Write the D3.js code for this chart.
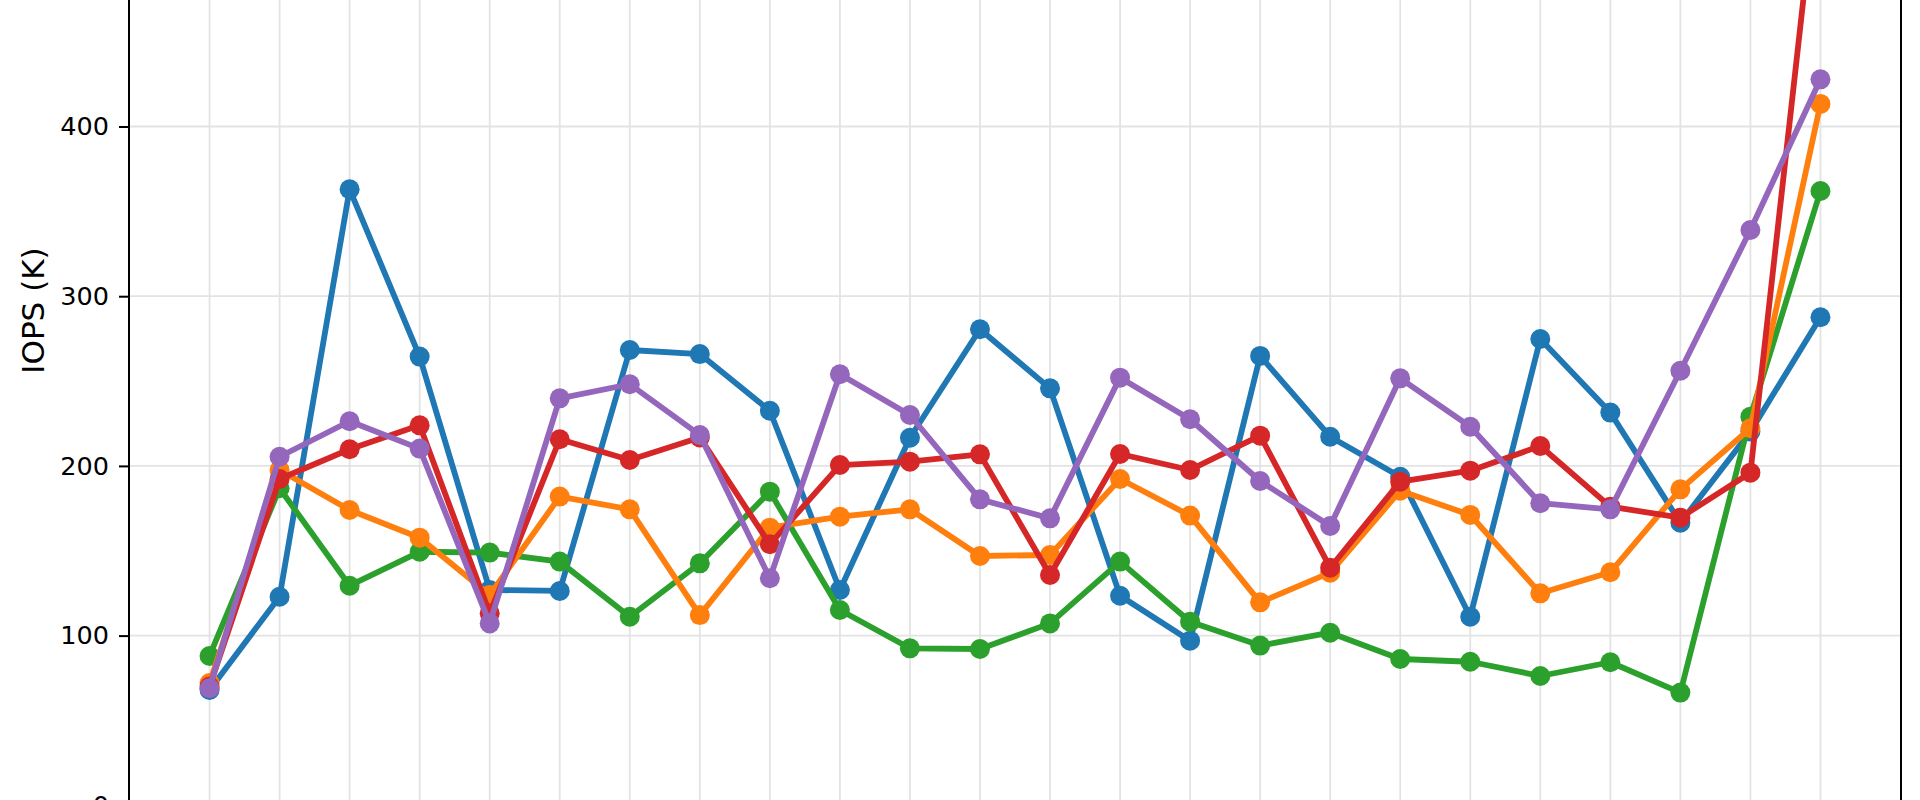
<!DOCTYPE html>
<html>
<head>
<meta charset="utf-8">
<script src="https://cdn.jsdelivr.net/npm/d3@7"></script>
<style>
  html, body { margin: 0; padding: 0; background: #ffffff; overflow: hidden; }
  svg { display: block; }
  text { font-family: "DejaVu Sans", sans-serif; fill: #000; }
</style>
</head>
<body>
<svg id="chart" width="1920" height="800"></svg>
<script>
// ---- data ----
const categories = [0,1,2,3,4,5,6,7,8,9,10,11,12,13,14,15,16,17,18,19,20,21,22,23];

const seriesBlue   = [68, 122.9, 363, 264.4, 126.9, 126.3, 268.3, 265.9, 232.5, 126.9, 216.6, 280.5, 245.7, 123.5, 97.0, 264.8, 217.2, 193.6, 111.1, 274.8, 231.4, 166.5, 220.2, 287.6];
const seriesGreen  = [88, 186.8, 129.4, 149.4, 148.9, 143.6, 111.1, 142.6, 184.8, 115.1, 92.5, 92.1, 107.2, 143.6, 108.2, 94.1, 101.7, 86.2, 84.6, 76.2, 84.3, 66.4, 229.0, 362.0];
const seriesOrange = [72, 197.6, 174, 157.7, 123.9, 181.9, 174.4, 112.1, 163.6, 170.1, 174.4, 146.9, 147.5, 192.3, 170.7, 119.6, 137.1, 185.4, 171.1, 124.9, 137.3, 186.2, 222.2, 413.3];
const seriesRed    = [70, 192.3, 209.8, 223.9, 113.1, 215.7, 203.5, 216.8, 153.8, 200.5, 202.5, 206.8, 135.7, 207.0, 197.6, 217.8, 140.0, 190.7, 197.2, 211.7, 176.0, 169.5, 196.0, 565];
const seriesPurple = [69, 205.4, 226.3, 210.2, 107.2, 239.8, 248.1, 218.2, 133.8, 254.0, 230.0, 180.3, 169.1, 252.0, 227.5, 191.1, 164.6, 251.6, 223.1, 178.0, 174.4, 256.1, 339.0, 427.8];

const yTicks = [0, 100, 200, 300, 400];
const yLabel = "IOPS (K)";

// ---- layout ----
const svg = d3.select("#chart");
const left = 129, right = 1901;
const yZero = 805.3, yFour = 126.5;
const axTop = -184;

const x = d3.scaleLinear().domain([-1.15, 24.15]).range([left, right]);
const y = d3.scaleLinear().domain([0, 400]).range([yZero, yFour]);

// grid
const grid = svg.append("g");
grid.selectAll("line.v").data(categories).enter().append("line")
  .attr("x1", d => x(d)).attr("x2", d => x(d))
  .attr("y1", axTop).attr("y2", yZero)
  .attr("stroke", "#e3e3e3").attr("stroke-width", 1.8);
grid.selectAll("line.h").data(yTicks.concat([500])).enter().append("line")
  .attr("x1", left).attr("x2", right)
  .attr("y1", d => y(d)).attr("y2", d => y(d))
  .attr("stroke", "#e3e3e3").attr("stroke-width", 1.8);

// series
const series = [
  { values: seriesBlue,   color: "#1f77b4" },
  { values: seriesGreen,  color: "#2ca02c" },
  { values: seriesOrange, color: "#ff7f0e" },
  { values: seriesRed,    color: "#d62728" },
  { values: seriesPurple, color: "#9467bd" }
];

const line = d3.line().x((d, i) => x(categories[i])).y(d => y(d));

series.forEach(s => {
  const g = svg.append("g");
  g.append("path").datum(s.values)
    .attr("d", line)
    .attr("fill", "none")
    .attr("stroke", s.color)
    .attr("stroke-width", 5.8)
    .attr("stroke-linejoin", "round")
    .attr("stroke-linecap", "butt");
  g.selectAll("circle").data(s.values).enter().append("circle")
    .attr("cx", (d, i) => x(categories[i]))
    .attr("cy", d => y(d))
    .attr("r", 10)
    .attr("fill", s.color);
});

// spines
svg.append("line").attr("x1", left).attr("x2", left).attr("y1", axTop).attr("y2", yZero)
  .attr("stroke", "#000").attr("stroke-width", 2);
svg.append("line").attr("x1", right).attr("x2", right).attr("y1", axTop).attr("y2", yZero)
  .attr("stroke", "#000").attr("stroke-width", 2);

// y axis ticks via d3 axis
const yAxis = d3.axisLeft(y).tickValues(yTicks).tickSize(10).tickPadding(10).tickFormat(d3.format("d"));
const ag = svg.append("g").attr("transform", `translate(${left},0)`).call(yAxis);
ag.select(".domain").remove();
ag.selectAll(".tick line").attr("stroke", "#000").attr("stroke-width", 2);
ag.selectAll(".tick text").attr("font-size", 25.5).attr("font-family", "DejaVu Sans").attr("fill", "#000");

// y label
svg.append("text")
  .attr("transform", `translate(43.5, 310.5) rotate(-90)`)
  .attr("text-anchor", "middle")
  .attr("font-size", 31)
  .text(yLabel);
</script>
</body>
</html>
